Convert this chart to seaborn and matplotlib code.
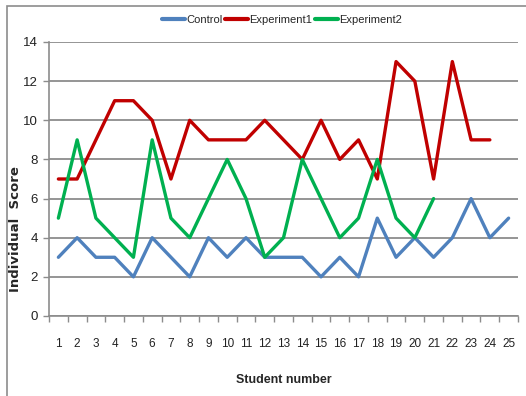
import matplotlib
matplotlib.use("Agg")
import matplotlib.pyplot as plt
import numpy as np
import pandas as pd
import seaborn as sns
from matplotlib.patches import Rectangle

students = list(range(1, 26))
control = [3, 4, 3, 3, 2, 4, 3, 2, 4, 3, 4, 3, 3, 3, 2, 3, 2, 5, 3, 4, 3, 4, 6, 4, 5]
experiment1 = [7, 7, 9, 11, 11, 10, 7, 10, 9, 9, 9, 10, 9, 8, 10, 8, 9, 7, 13, 12, 7, 13, 9, 9]
experiment2 = [5, 9, 5, 4, 3, 9, 5, 4, 6, 8, 6, 3, 4, 8, 6, 4, 5, 8, 5, 4, 6]

groups = ["Control", "Experiment1", "Experiment2"]
colors = ["#4F81BD", "#C00000", "#00B050"]

frames = []
for name, vals in zip(groups, [control, experiment1, experiment2]):
    frames.append(pd.DataFrame({"student": students[:len(vals)], "score": vals, "group": name}))
df = pd.concat(frames, ignore_index=True)

sns.set_theme(style="white")
plt.rcParams["font.family"] = ["Liberation Sans", "DejaVu Sans"]

fig = plt.figure(figsize=(5.26, 3.96), dpi=100)
ax = fig.add_axes([49 / 526, 1 - 316 / 396, (518 - 49) / 526, (316 - 42) / 396])

# outer chart frame
fig.patches.append(Rectangle((7 / 526, -0.05), 1.1, 1 - 6 / 396 + 0.05, transform=fig.transFigure,
                             fill=False, edgecolor="#8c8c8c", linewidth=1.2))

sns.lineplot(data=df, x="student", y="score", hue="group", palette=dict(zip(groups, colors)),
             linewidth=2.4, ax=ax, legend=False)

ax.set_xlim(0.5, 25.5)
ax.set_ylim(0, 14)
ax.set_yticks(range(0, 15, 2))
ax.set_xticks(students)
ax.set_xticks(np.arange(0.5, 26, 1), minor=True)
ax.tick_params(axis="x", which="major", length=0, pad=16, labelsize=8.5, colors="#222222")
ax.tick_params(axis="x", which="minor", length=4, color="#8c8c8c", width=1, direction="out", bottom=True)
ax.tick_params(axis="y", length=4, color="#8c8c8c", width=1, direction="out", left=True, labelsize=9.5,
               colors="#222222", pad=4)
ax.yaxis.grid(True, color="#8c8c8c", linewidth=1.3)
ax.set_axisbelow(True)
for side in ["top", "right"]:
    ax.spines[side].set_visible(False)
for side in ["left", "bottom"]:
    ax.spines[side].set_color("#8c8c8c")
    ax.spines[side].set_linewidth(1.2)

ax.set_xlabel("Student number", fontsize=9, fontweight="bold")
ax.xaxis.set_label_coords(0.5, -(374 - 316) / 274)
ax.set_ylabel("Individual  Score", fontsize=9.5, fontweight="bold", family=["DejaVu Sans"])
ax.yaxis.set_label_coords(-(49 - 22) / 469, (316 - 229) / 274)

handles = [plt.Line2D([], [], color=c, linewidth=3) for c in colors]
fig.legend(handles, groups, loc="center", bbox_to_anchor=(282 / 526, 1 - 20 / 396), ncol=3,
           frameon=False, fontsize=8, handlelength=2.1, handletextpad=0.1, columnspacing=0.25)

fig.savefig("out.png", dpi=100)
